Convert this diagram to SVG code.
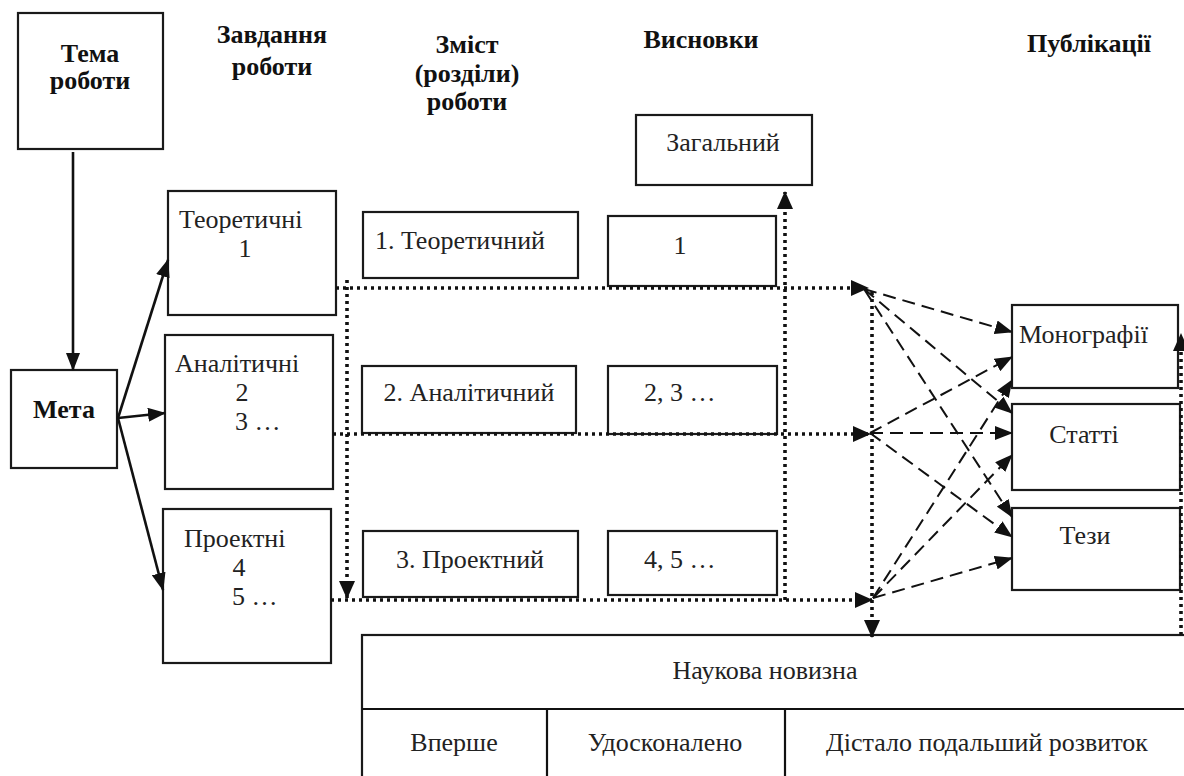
<svg xmlns="http://www.w3.org/2000/svg" width="1184" height="776" viewBox="0 0 1184 776">
<style>
.box{fill:#fff;stroke:#1a1a1a;stroke-width:2.2}
.solid{fill:none;stroke:#111;stroke-width:2.6}
.dot{fill:none;stroke:#111;stroke-width:3.6;stroke-dasharray:3 4}
.dash{fill:none;stroke:#111;stroke-width:2;stroke-dasharray:13 7}
</style>
<defs>
<marker id="a" markerUnits="userSpaceOnUse" markerWidth="18" markerHeight="14" refX="17" refY="7" orient="auto"><path d="M0,0 L18,7 L0,14 z" fill="#111"/></marker>
<marker id="ad" markerUnits="userSpaceOnUse" markerWidth="18" markerHeight="16" refX="17" refY="8" orient="auto"><path d="M0,0 L18,8 L0,16 z" fill="#111"/></marker>
</defs>
<rect width="1184" height="776" fill="#fff"/>
<g id="headers" font-family="Liberation Serif" font-size="26" font-weight="bold" fill="#111" text-anchor="middle">
<text font-family="Liberation Serif" x="272" y="43">Завдання</text>
<text font-family="Liberation Serif" x="272" y="75">роботи</text>
<text font-family="Liberation Serif" x="467" y="53">Зміст</text>
<text font-family="Liberation Serif" x="467" y="82">(розділи)</text>
<text font-family="Liberation Serif" x="467" y="110">роботи</text>
<text font-family="Liberation Serif" x="701" y="48">Висновки</text>
<text font-family="Liberation Serif" x="1089" y="52">Публікації</text>
</g>

<g id="tema"><rect class="box" x="18" y="13" width="145" height="136"/><text font-family="Liberation Serif" font-size="26" font-weight="bold" fill="#111" text-anchor="middle" x="90" y="62">Тема</text><text font-family="Liberation Serif" font-size="26" font-weight="bold" fill="#111" text-anchor="middle" x="90" y="89">роботи</text></g>
<g id="meta"><rect class="box" x="11" y="370" width="106" height="98"/><text font-family="Liberation Serif" font-size="26" font-weight="bold" fill="#111" text-anchor="middle" x="64" y="418">Мета</text></g>
<g id="teor"><rect class="box" x="168" y="191" width="168" height="124"/><text font-family="Liberation Serif" font-size="26" fill="#222" x="179" y="228">Теоретичні</text><text font-family="Liberation Serif" font-size="26" fill="#222" text-anchor="middle" x="245" y="257">1</text></g>
<g id="anal"><rect class="box" x="165" y="335" width="168" height="154"/><text font-family="Liberation Serif" font-size="26" fill="#222" x="175" y="372">Аналітичні</text><text font-family="Liberation Serif" font-size="26" fill="#222" text-anchor="middle" x="242" y="401">2</text><text font-family="Liberation Serif" font-size="26" fill="#222" x="235" y="430">3 …</text></g>
<g id="proj"><rect class="box" x="163" y="509" width="168" height="154"/><text font-family="Liberation Serif" font-size="26" fill="#222" x="184" y="547">Проектні</text><text font-family="Liberation Serif" font-size="26" fill="#222" text-anchor="middle" x="239" y="576">4</text><text font-family="Liberation Serif" font-size="26" fill="#222" x="232" y="605">5 …</text></g>

<g id="zm1"><rect class="box" x="363" y="212" width="215" height="66"/><text font-family="Liberation Serif" font-size="26" fill="#222" text-anchor="middle" x="460" y="249">1. Теоретичний</text></g>
<g id="zm2"><rect class="box" x="362" y="366" width="214" height="67"/><text font-family="Liberation Serif" font-size="26" fill="#222" text-anchor="middle" x="469" y="401">2. Аналітичний</text></g>
<g id="zm3"><rect class="box" x="363" y="531" width="215" height="66"/><text font-family="Liberation Serif" font-size="26" fill="#222" text-anchor="middle" x="470" y="568">3. Проектний</text></g>

<g id="zag"><rect class="box" x="636" y="115" width="176" height="70"/><text font-family="Liberation Serif" font-size="26" fill="#222" text-anchor="middle" x="723" y="151">Загальний</text></g>
<g id="v1"><rect class="box" x="608" y="216" width="168" height="70"/><text font-family="Liberation Serif" font-size="26" fill="#222" text-anchor="middle" x="680" y="254">1</text></g>
<g id="v2"><rect class="box" x="608" y="366" width="169" height="68"/><text font-family="Liberation Serif" font-size="26" fill="#222" x="644" y="401">2, 3 …</text></g>
<g id="v3"><rect class="box" x="608" y="531" width="169" height="64"/><text font-family="Liberation Serif" font-size="26" fill="#222" x="644" y="568">4, 5 …</text></g>

<g id="mono"><rect class="box" x="1012" y="305" width="166" height="83"/><text font-family="Liberation Serif" font-size="26" fill="#222" x="1019" y="343">Монографії</text></g>
<g id="stat"><rect class="box" x="1012" y="404" width="168" height="86"/><text font-family="Liberation Serif" font-size="26" fill="#222" text-anchor="middle" x="1084" y="443">Статті</text></g>
<g id="tezy"><rect class="box" x="1012" y="508" width="168" height="82"/><text font-family="Liberation Serif" font-size="26" fill="#222" text-anchor="middle" x="1085" y="544">Тези</text></g>

<g id="novyzna">
<rect class="box" x="362" y="635" width="840" height="160"/>
<line class="solid" x1="362" y1="709" x2="1190" y2="709" style="stroke-width:2.2"/>
<line class="solid" x1="547" y1="709" x2="547" y2="780" style="stroke-width:2.2"/>
<line class="solid" x1="785" y1="709" x2="785" y2="780" style="stroke-width:2.2"/>
<text font-family="Liberation Serif" font-size="26" fill="#222" text-anchor="middle" x="765" y="679">Наукова новизна</text>
<text font-family="Liberation Serif" font-size="26" fill="#222" text-anchor="middle" x="454" y="751">Вперше</text>
<text font-family="Liberation Serif" font-size="26" fill="#222" text-anchor="middle" x="665" y="751">Удосконалено</text>
<text font-family="Liberation Serif" font-size="26" fill="#222" text-anchor="middle" x="987" y="751">Дістало подальший розвиток</text>
</g>

<g id="connectors">
<line class="solid" x1="73" y1="152" x2="73" y2="370" marker-end="url(#a)"/>
<line class="solid" x1="118" y1="418" x2="168" y2="260" marker-end="url(#a)"/>
<line class="solid" x1="118" y1="418" x2="165" y2="413" marker-end="url(#a)"/>
<line class="solid" x1="118" y1="418" x2="163" y2="590" marker-end="url(#a)"/>

<line class="dot" x1="336" y1="288" x2="868" y2="288" marker-end="url(#ad)"/>
<line class="dot" x1="333" y1="434" x2="870" y2="434" marker-end="url(#ad)"/>
<line class="dot" x1="331" y1="600" x2="872" y2="600" marker-end="url(#ad)"/>
<line class="dot" x1="347" y1="280" x2="347" y2="598" marker-end="url(#ad)"/>
<line class="dot" x1="785" y1="600" x2="785" y2="192" marker-end="url(#ad)"/>
<line class="dot" x1="872" y1="292" x2="872" y2="637" marker-end="url(#ad)"/>
<line class="dot" x1="1181" y1="635" x2="1181" y2="334" marker-end="url(#ad)"/>

<line class="dash" x1="864" y1="289" x2="1012" y2="332" marker-end="url(#a)"/>
<line class="dash" x1="864" y1="289" x2="1012" y2="413" marker-end="url(#a)"/>
<line class="dash" x1="864" y1="289" x2="1012" y2="517" marker-end="url(#a)"/>
<line class="dash" x1="870" y1="433" x2="1012" y2="357" marker-end="url(#a)"/>
<line class="dash" x1="870" y1="433" x2="1012" y2="433" marker-end="url(#a)"/>
<line class="dash" x1="870" y1="433" x2="1012" y2="537" marker-end="url(#a)"/>
<line class="dash" x1="873" y1="598" x2="1012" y2="380" marker-end="url(#a)"/>
<line class="dash" x1="873" y1="598" x2="1012" y2="455" marker-end="url(#a)"/>
<line class="dash" x1="873" y1="598" x2="1012" y2="558" marker-end="url(#a)"/>
</g>
</svg>
